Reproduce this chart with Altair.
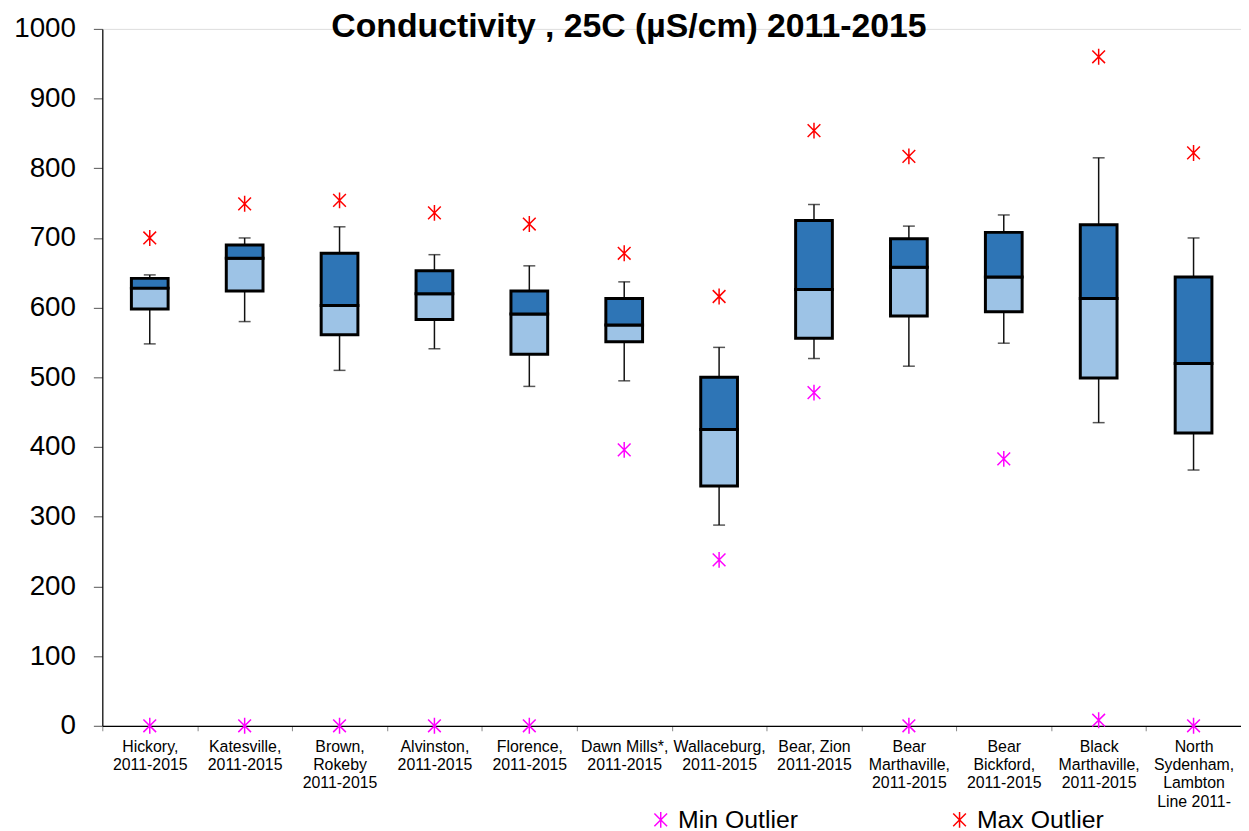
import altair as alt
import pandas as pd

categories = [
    "Hickory,|2011-2015",
    "Katesville,|2011-2015",
    "Brown,|Rokeby|2011-2015",
    "Alvinston,|2011-2015",
    "Florence,|2011-2015",
    "Dawn Mills*,|2011-2015",
    "Wallaceburg,|2011-2015",
    "Bear, Zion|2011-2015",
    "Bear|Marthaville,|2011-2015",
    "Bear|Bickford,|2011-2015",
    "Black|Marthaville,|2011-2015",
    "North|Sydenham,|Lambton|Line 2011-",
]
whisker_low = [548, 580, 510, 541, 487, 495, 288, 527, 516, 549, 435, 367]
q1 = [598, 624, 561, 583, 533, 551, 344, 556, 588, 594, 499, 420]
median = [628, 671, 603, 620, 591, 575, 425, 626, 658, 644, 613, 520]
q3 = [642, 690, 678, 653, 624, 613, 500, 725, 699, 708, 719, 644]
whisker_high = [647, 700, 716, 676, 660, 637, 543, 748, 717, 733, 815, 700]
max_outlier = [700, 749, 754, 736, 720, 678, 616, 854, 817, None, 960, 822]
min_outlier = [0, 0, 0, 0, 0, 396, 238, 478, 0, 383, 8, 0]
outlier_types = ["Min Outlier", "Max Outlier"]
outlier_colors = ["#FF00FF", "#FF0000"]

df = pd.DataFrame({
    "cat": categories,
    "lo": whisker_low,
    "q1": q1,
    "med": median,
    "q3": q3,
    "hi": whisker_high,
})

rows = []
for c, mn, mx in zip(categories, min_outlier, max_outlier):
    if mn is not None:
        rows.append({"cat": c, "value": mn, "type": "Min Outlier"})
    if mx is not None:
        rows.append({"cat": c, "value": mx, "type": "Max Outlier"})
out_df = pd.DataFrame(rows)

FONT = "Liberation Sans"
STAR = "M0,-1L0,1M-0.8,-0.8L0.8,0.8M-0.8,0.8L0.8,-0.8"

x_enc = alt.X(
    "cat:N",
    sort=categories,
    title=None,
    scale=alt.Scale(paddingInner=0, paddingOuter=0),
    axis=alt.Axis(
        labelAngle=0,
        labelExpr="split(datum.label, '|')",
        labelFont=FONT,
        labelFontSize=16,
        labelColor="black",
        labelLineHeight=18.3,
        labelBaseline="top",
        labelPadding=8,
        labelOverlap=False,
        labelBound=False,
        labelFlush=False,
        tickBand="extent",
        tickSize=5,
        tickColor="#888888",
        domainColor="black",
        domainWidth=1.2,
    ),
)

y_scale = alt.Scale(domain=[0, 1000], nice=False, zero=True)
y_axis = alt.Axis(
    values=list(range(0, 1001, 100)),
    format="d",
    labelFont=FONT,
    labelFontSize=28,
    labelColor="black",
    labelPadding=18,
    tickSize=9,
    tickColor="#555555",
    domainColor="black",
    domainWidth=1.2,
    grid=False,
    title=None,
)

base = alt.Chart(df)

whiskers = base.mark_rule(color="#111111", strokeWidth=1.5).encode(
    x=x_enc,
    y=alt.Y("lo:Q", scale=y_scale, axis=y_axis),
    y2="hi:Q",
)

cap_lo = base.mark_tick(color="#111111", thickness=1.5, size=12, orient="horizontal").encode(
    x=x_enc, y=alt.Y("lo:Q", scale=y_scale)
)
cap_hi = base.mark_tick(color="#111111", thickness=1.5, size=12, orient="horizontal").encode(
    x=x_enc, y=alt.Y("hi:Q", scale=y_scale)
)

lower_box = base.mark_bar(size=37, fill="#9DC3E6", stroke="black", strokeWidth=3).encode(
    x=x_enc, y=alt.Y("q1:Q", scale=y_scale), y2="med:Q"
)
upper_box = base.mark_bar(size=37, fill="#2E75B6", stroke="black", strokeWidth=3).encode(
    x=x_enc, y=alt.Y("med:Q", scale=y_scale), y2="q3:Q"
)

outliers = alt.Chart(out_df).mark_point(filled=False, strokeWidth=1.5, size=256, opacity=1).encode(
    x=x_enc,
    y=alt.Y("value:Q", scale=y_scale),
    color=alt.Color(
        "type:N",
        scale=alt.Scale(domain=outlier_types, range=outlier_colors),
        legend=alt.Legend(
            title=None,
            orient="none",
            legendX=550,
            legendY=784,
            direction="horizontal",
            columns=2,
            columnPadding=150,
            labelFont=FONT,
            labelFontSize=25,
            labelColor="black",
            labelOffset=5,
            symbolSize=256,
            symbolStrokeWidth=1.5,
        ),
    ),
    shape=alt.Shape(
        "type:N",
        scale=alt.Scale(domain=outlier_types, range=[STAR, STAR]),
        legend=None,
    ),
)

chart = (
    alt.layer(whiskers, cap_lo, cap_hi, lower_box, upper_box, outliers)
    .properties(
        width=1147,
        height=702,
        title=alt.TitleParams(
            "Conductivity , 25C (µS/cm) 2011-2015",
            font=FONT,
            fontSize=34,
            fontWeight="bold",
            color="black",
            anchor="middle",
            baseline="alphabetic",
            offset=-56,
            dx=-43,
        ),
        autosize=alt.AutoSizeParams(type="none"),
        padding={"left": 95, "top": 18, "right": 0, "bottom": 112},
    )
    .configure_view(stroke=None)
    .configure(background="white")
)

chart.save("out.html", embed_options={"renderer": "svg", "actions": False})
